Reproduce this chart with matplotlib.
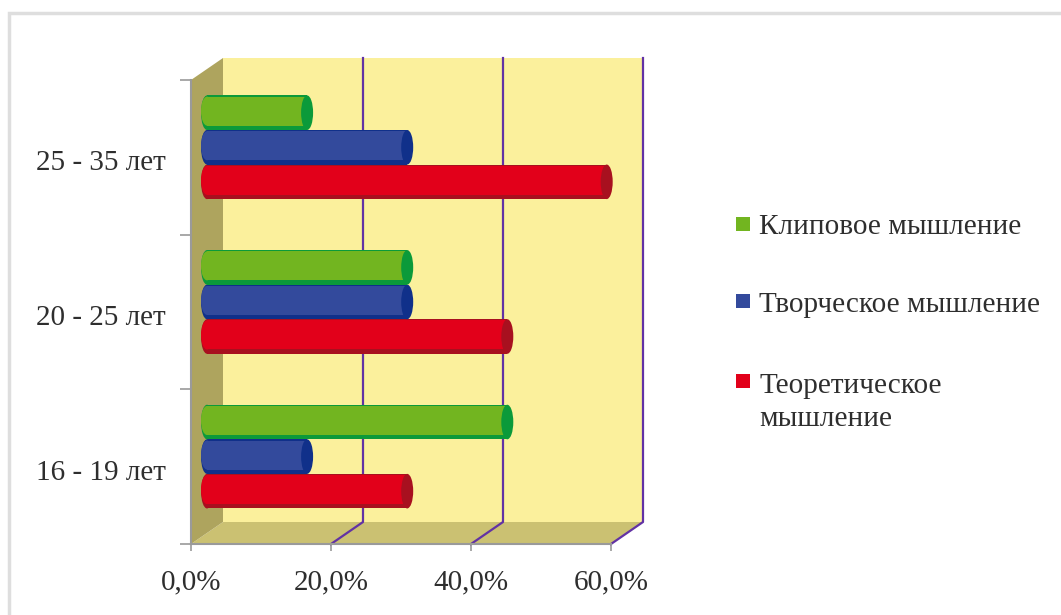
import matplotlib
matplotlib.use("Agg")
import matplotlib.pyplot as plt
from matplotlib.patches import Ellipse, Polygon, Rectangle
from matplotlib.transforms import ScaledTranslation

plt.rcParams['font.family'] = ['Liberation Serif', 'DejaVu Serif']

categories = ['16 - 19 лет', '20 - 25 лет', '25 - 35 лет']
teoret = [28.6, 42.9, 57.1]
tvorch = [14.3, 28.6, 28.6]
klip = [42.9, 28.6, 14.3]
x_ticks = [0, 20, 40, 60]
x_labels = ['0,0%', '20,0%', '40,0%', '60,0%']

W, H = 1061, 615
fig = plt.figure(figsize=(W / 100, H / 100), dpi=100)

# page frame, only the top and left show up in the scan
fig.add_artist(Rectangle((9 / W, -0.1), 1.2, 1 - 13 / H + 0.1, transform=fig.transFigure,
                         fc='white', ec='#dedede', lw=2.5, zorder=-1))

ax = fig.add_axes([191 / W, 1 - 544 / H, 420 / W, 464 / H])
ax.set_xlim(0, 60)
ax.set_ylim(0, 3)
ax.patch.set_alpha(0)

# fake 3d depth, in data units
DX = 32 / 7
DY = 22 / (464 / 3)
TOP = 3

ax.add_patch(Rectangle((DX, DY), 60, TOP, fc='#fbf09c', ec='none', clip_on=False, zorder=1))
ax.add_patch(Polygon([(0, 0), (DX, DY), (60 + DX, DY), (60, 0)], fc='#cbc172', ec='none',
                     clip_on=False, zorder=1))
ax.add_patch(Polygon([(0, 0), (DX, DY), (DX, TOP + DY), (0, TOP)], fc='#aea45e', ec='none',
                     clip_on=False, zorder=1))

for t in x_ticks[1:]:
    ax.plot([t, t + DX, t + DX], [0, DY, TOP + DY], color='#6232a4', lw=1.6, clip_on=False, zorder=2)

series = [
    (teoret, 'Теоретическое\nмышление', '#e2001a', '#a8101f'),
    (tvorch, 'Творческое мышление', '#334a9c', '#10308a'),
    (klip, 'Клиповое мышление', '#72b520', '#0b9a3a'),
]

h = 0.2235
cap_w = 12 / 7
for i, (vals, name, body, dark) in enumerate(series):
    z = 3 + i
    for c, v in enumerate(vals):
        y = c + 0.5 + (i - 1) * h + DY / 2 - 0.006
        x0 = DX / 2
        ax.barh(y, v, left=x0, height=h, color=dark, zorder=z, clip_on=False)
        ax.add_patch(Ellipse((x0, y), cap_w, h, fc=dark, ec='none', zorder=z, clip_on=False))
        ax.barh(y + 0.01, v, left=x0, height=h * 0.84, color=body, zorder=z, clip_on=False)
        ax.add_patch(Ellipse((x0, y + 0.01), cap_w, h * 0.84, fc=body, ec='none', zorder=z, clip_on=False))
        ax.add_patch(Ellipse((x0 + v, y), cap_w, h, fc=dark, ec='none', zorder=z, clip_on=False))

for s in ['top', 'right']:
    ax.spines[s].set_visible(False)
for s in ['left', 'bottom']:
    ax.spines[s].set_color('#9a9a9a')
    ax.spines[s].set_linewidth(1.5)
    ax.spines[s].set_zorder(10)

ax.set_xticks(x_ticks)
ax.set_xticklabels(x_labels, fontsize=21, color='#2e2e2e')
ax.tick_params(axis='x', length=5, width=1.2, color='#9a9a9a', pad=13)

ax.set_yticks([0, 1, 2, 3])
ax.set_yticklabels([])
ax.tick_params(axis='y', which='major', length=8, width=1.2, color='#9a9a9a')
ax.set_yticks([0.5, 1.5, 2.5], minor=True)
ax.set_yticklabels(categories, minor=True, fontsize=21, color='#2e2e2e', va='center')
ax.tick_params(axis='y', which='minor', length=0, pad=18)

# labels sit a bit under the middle of their band
shift = ScaledTranslation(0, -6 / 100, fig.dpi_scale_trans)
for lab in ax.get_yticklabels(minor=True):
    lab.set_transform(lab.get_transform() + shift)

# legend by hand, the square sits on the first line of the wrapped label
legend_y = [381, 301, 224]
text_top = [373, 292, 214]
for (vals, name, body, dark), ly, ty in zip(series, legend_y, text_top):
    fig.add_artist(Rectangle((736 / W, 1 - (ly + 7) / H), 14 / W, 14 / H, transform=fig.transFigure,
                             fc=body, ec='none'))
    fig.text(759 / W, 1 - ty / H, name, fontsize=21.1, color='#2e2e2e', va='top', ha='left',
             linespacing=1.33)

fig.savefig('out.png', dpi=100)
